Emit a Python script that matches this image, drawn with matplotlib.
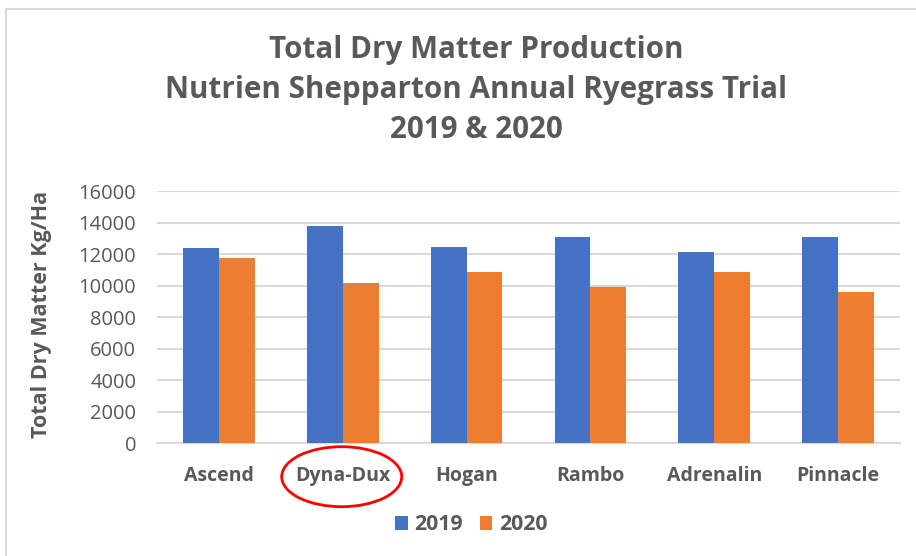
import matplotlib.pyplot as plt
import numpy as np
from matplotlib.patches import Ellipse, Rectangle

# data
varieties = ['Ascend', 'Dyna-Dux', 'Hogan', 'Rambo', 'Adrenalin', 'Pinnacle']
dm_2019 = [12400, 13750, 12450, 13080, 12110, 13080]
dm_2020 = [11730, 10150, 10860, 9890, 10860, 9590]
series_labels = ['2019', '2020']
y_ticks = [0, 2000, 4000, 6000, 8000, 10000, 12000, 14000, 16000]

BLUE = '#4472C4'
ORANGE = '#ED7D31'
TEXT = '#595959'
GRID = '#D9D9D9'

plt.rcParams['font.family'] = ['Open Sans', 'DejaVu Sans']

W, H = 916, 556
fig = plt.figure(figsize=(W / 100, H / 100), dpi=100)
ax = fig.add_axes([157 / W, 1 - 443.3 / H, (900 - 157) / W, (443.3 - 191) / H])

x = np.arange(len(varieties))
bw = 0.29
ax.bar(x - bw / 2, dm_2019, bw, color=BLUE, label=series_labels[0], zorder=3)
ax.bar(x + bw / 2, dm_2020, bw, color=ORANGE, label=series_labels[1], zorder=3)

ax.set_xlim(-0.5, len(varieties) - 0.5)
ax.set_ylim(0, 16000)
ax.set_yticks(y_ticks)
ax.set_yticklabels([str(t) for t in y_ticks], fontsize=14.5, color=TEXT)
ax.set_xticks(x)
ax.set_xticklabels(varieties, fontsize=14, fontweight='bold', color=TEXT)
ax.tick_params(axis='both', length=0)
ax.tick_params(axis='x', pad=16.5)
ax.tick_params(axis='y', pad=15)

ax.yaxis.grid(True, color=GRID, linewidth=1.5, zorder=0)
for side in ['top', 'right', 'left']:
    ax.spines[side].set_visible(False)
ax.spines['bottom'].set_color(GRID)
ax.spines['bottom'].set_linewidth(1.5)

fig.text(42 / W, 1 - 314 / H, 'Total Dry Matter Kg/Ha', rotation=90,
         ha='center', va='center', fontsize=15.5, fontweight='bold', color=TEXT)

fig.text(476 / W, 1 - 90 / H,
         'Total Dry Matter Production\nNutrien Shepparton Annual Ryegrass Trial\n2019 & 2020',
         ha='center', va='center', fontsize=21.3, fontweight='bold', color=TEXT,
         linespacing=1.42)

fig.legend(loc='center', bbox_to_anchor=(471 / W, 1 - 525 / H), ncol=2, frameon=False,
           prop={'weight': 'bold', 'size': 15.3}, handlelength=0.6,
           handleheight=0.6, handletextpad=0.3, columnspacing=0.8, labelcolor=TEXT)

# chart border (only top and left visible in the crop)
fig.patches.append(Rectangle((6 / W, -0.1), 1.2, 1 - 9 / H + 0.1,
                             transform=fig.transFigure, fill=False,
                             edgecolor='#D9D9D9', linewidth=1.5))

# red annotation ring around Dyna-Dux
fig.patches.append(Ellipse((341.7 / W, 1 - 476.7 / H), 120 / W, 60 / H,
                           transform=fig.transFigure, fill=False,
                           edgecolor='#FF0000', linewidth=2))

fig.savefig('out.png', dpi=100)
